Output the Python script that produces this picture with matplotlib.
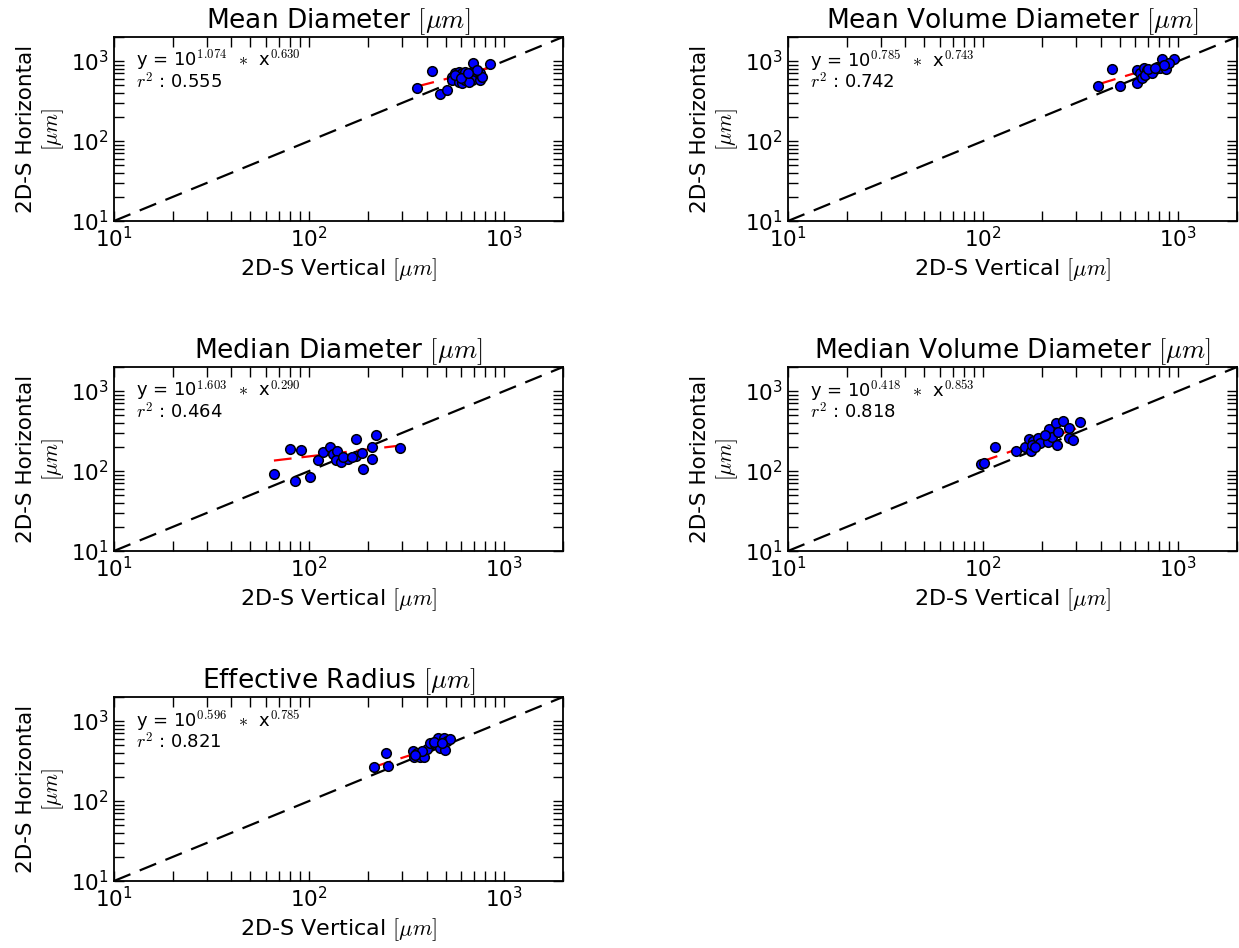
import numpy as np
import matplotlib
matplotlib.use('Agg')
import matplotlib.pyplot as plt

plt.rcParams['font.family'] = 'DejaVu Sans'
plt.rcParams['mathtext.fontset'] = 'cm'
plt.rcParams['xtick.direction'] = 'in'
plt.rcParams['ytick.direction'] = 'in'
plt.rcParams['xtick.top'] = True
plt.rcParams['ytick.right'] = True

# ---------- data (2D-S vertical vs horizontal, um)
titles = ['Mean Diameter', 'Mean Volume Diameter', 'Median Diameter',
          'Median Volume Diameter', 'Effective Radius']

mean_d_vert = [356, 426, 470, 508, 539, 561, 583, 607, 631, 656, 683, 692, 724, 753,
               539, 583, 607, 631, 683, 753, 769, 847, 561, 656, 724, 600, 650]
mean_d_horz = [456, 757, 384, 434, 637, 702, 735, 702, 735, 668, 735, 935, 668, 702,
               579, 551, 526, 579, 579, 579, 637, 917, 668, 551, 772, 620, 700]

mvd_vert = [390, 457, 505, 614, 618, 638, 664, 691, 718, 747, 651, 677, 733, 778,
            809, 825, 868, 946, 892, 848, 700, 760]
mvd_horz = [491, 787, 491, 526, 772, 702, 809, 772, 735, 772, 607, 668, 702, 849,
            809, 1050, 787, 1050, 935, 891, 800, 820]

median_d_vert = [66, 80, 91, 85, 101, 111, 118, 128, 132, 139, 137, 145, 158, 174,
                 174, 186, 188, 210, 211, 220, 293, 150, 165]
median_d_horz = [91, 188, 183, 75, 85, 137, 171, 201, 163, 179, 137, 131, 140, 155,
                 249, 166, 105, 201, 140, 282, 196, 151, 151]

mmd_vert = [97, 101, 115, 147, 164, 171, 176, 181, 190, 195, 178, 214, 218, 225,
            237, 239, 243, 258, 274, 276, 289, 314, 208, 185]
mmd_horz = [121, 127, 201, 179, 198, 249, 178, 239, 256, 226, 211, 233, 332, 268,
            394, 211, 310, 422, 342, 261, 244, 406, 282, 201]

reff_vert = [215, 248, 255, 340, 345, 357, 371, 389, 401, 418, 443, 455, 470, 489,
             499, 509, 529, 378, 435, 480, 350]
reff_horz = [264, 394, 274, 426, 358, 394, 352, 358, 443, 535, 516, 607, 455, 607,
             434, 567, 590, 426, 551, 526, 376]

# power law fit y = 10**a * x**b and r^2, as printed on each panel
fit_a = [1.074, 0.785, 1.603, 0.418, 0.596]
fit_b = [0.630, 0.743, 0.290, 0.853, 0.785]
fit_r2 = [0.555, 0.742, 0.464, 0.818, 0.821]

verts = [mean_d_vert, mvd_vert, median_d_vert, mmd_vert, reff_vert]
horzs = [mean_d_horz, mvd_horz, median_d_horz, mmd_horz, reff_horz]

lims = [10, 2000]

fig = plt.figure(figsize=(12.39, 9.48), dpi=100)

# axes positions (left col / right col, 3 rows)
lefts = [0.092, 0.636]
bottoms = [0.7669, 0.4188, 0.0707]
w, h = 0.3624, 0.1941

for i in range(5):
    ax = fig.add_axes([lefts[i % 2], bottoms[i // 2], w, h])
    x = np.array(verts[i], dtype=float)
    y = np.array(horzs[i], dtype=float)

    # 1:1 line
    ax.plot(lims, lims, 'k--', lw=1.6, dashes=(8, 4.5))
    # fit line over the data range
    xf = np.array([x.min(), x.max()])
    yf = 10 ** fit_a[i] * xf ** fit_b[i]
    ax.plot(xf, yf, 'r--', lw=1.6, dashes=(8, 4.5))
    ax.scatter(x, y, s=48, c='b', edgecolors='k', linewidths=1.1, zorder=3)

    ax.set_xscale('log')
    ax.set_yscale('log')
    ax.set_xlim(lims)
    ax.set_ylim(lims)

    ax.text(0.05, 0.84, 'y = 10$^{%.3f}$  $*$  x$^{%.3f}$' % (fit_a[i], fit_b[i]),
            transform=ax.transAxes, fontsize=13)
    ax.text(0.05, 0.72, '$r^2$ : %.3f' % fit_r2[i], transform=ax.transAxes, fontsize=13)

    ax.set_title(titles[i] + r' $[\mu m]$', fontsize=19)
    ax.set_xlabel(r'2D-S Vertical $[\mu m]$', fontsize=16)
    ax.set_ylabel('2D-S Horizontal\n' + r'$[\mu m]$', fontsize=15.5)
    ax.tick_params(which='major', labelsize=15.5, length=7, width=1)
    ax.tick_params(which='minor', length=7, width=1)
    for sp in ax.spines.values():
        sp.set_linewidth(1.3)

plt.savefig('out.png', dpi=100)
